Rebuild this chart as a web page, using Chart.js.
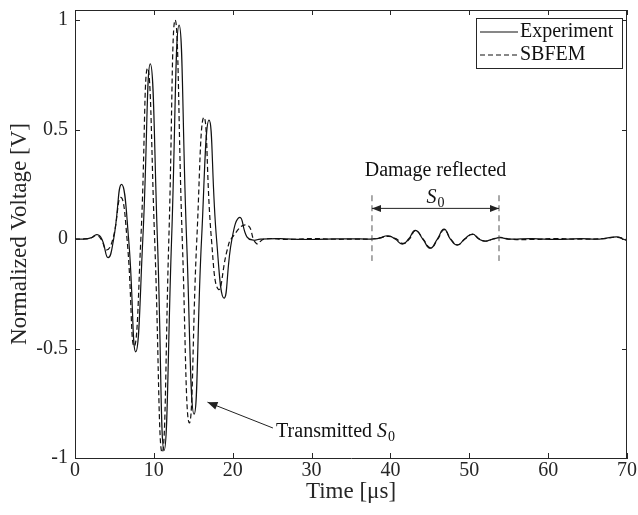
<!DOCTYPE html>
<html>
<head>
<meta charset="utf-8">
<script src="https://cdn.jsdelivr.net/npm/chart.js@4/dist/chart.umd.min.js"></script>
<style>
html,body{margin:0;padding:0;background:#fff;}
#wrap{width:638px;height:515px;position:relative;}
</style>
</head>
<body>
<div id="wrap"><canvas id="c" width="638" height="515"></canvas></div>
<script>
// ---- Data ----
const expTime = [0, 1.0, 2.0, 2.8, 3.4, 4.2, 4.9, 5.9, 6.8, 7.7, 8.6, 9.55, 10.45, 11.3, 12.25, 13.2, 14.15, 15.1, 16.05, 17.0, 17.95, 18.9, 19.9, 20.9, 21.8, 22.6, 23.5, 26, 29, 32, 35, 37.5, 38.5, 39.7, 40.6, 41.5, 42.3, 43.15, 44.1, 45.05, 45.95, 46.8, 47.6, 48.5, 49.4, 50.4, 51.2, 52.0, 53.0, 53.9, 55, 58, 61, 64, 66.5, 68.7, 69.5, 70];
const expVolt = [0, 0.0, 0.005, 0.02, 0.0, -0.085, 0.0, 0.25, 0.0, -0.515, 0.0, 0.80, 0.0, -0.965, 0.0, 0.977, 0.0, -0.80, 0.0, 0.543, 0.0, -0.27, 0.0, 0.099, 0.01, -0.005, 0.0, 0.002, -0.002, 0.0, 0.001, 0.0, 0.003, 0.015, 0.0, -0.023, 0.0, 0.04, 0.0, -0.042, 0.0, 0.045, 0.0, -0.028, 0.0, 0.023, 0.0, -0.009, 0.0, 0.006, 0.0, 0.002, -0.002, 0.002, 0.0, 0.01, 0.0, -0.008];

const simTime = [0, 1.0, 2.0, 2.7, 3.3, 4.0, 4.8, 5.8, 6.6, 7.5, 8.35, 9.2, 10.1, 11.05, 11.9, 12.7, 13.6, 14.5, 15.45, 16.35, 17.3, 18.2, 19.3, 20.0, 21.8, 23.0, 24.0, 27, 30, 33, 36, 37.5, 38.6, 39.8, 40.7, 41.6, 42.4, 43.2, 44.15, 45.1, 46.0, 46.85, 47.65, 48.55, 49.45, 50.45, 51.3, 52.1, 53.0, 53.9, 55, 58, 61, 64, 67, 68.8, 70];
const simVolt = [0, 0.0, 0.005, 0.015, 0.0, -0.05, 0.0, 0.19, 0.0, -0.49, 0.0, 0.78, 0.0, -0.975, 0.0, 1.0, 0.0, -0.84, 0.0, 0.556, 0.0, -0.23, -0.05, 0.01, 0.064, -0.02, 0.0, -0.002, 0.002, -0.001, 0.0, 0.0, 0.005, 0.012, 0.002, -0.02, 0.0, 0.038, 0.0, -0.04, 0.0, 0.043, 0.0, -0.026, 0.0, 0.021, 0.0, -0.01, 0.0, 0.008, 0.0, -0.002, 0.002, -0.001, 0.002, 0.008, -0.004];

const xTicks = [0, 10, 20, 30, 40, 50, 60, 70];
const yTicks = [-1, -0.5, 0, 0.5, 1];
const seriesNames = ['Experiment', 'SBFEM'];

// annotation anchors in data coordinates
const reflStart = 37.66, reflEnd = 53.77;

const FONT = '"Liberation Serif", "Times New Roman", serif';
const AX = '#262626';

function pts(t, v) { return t.map((x, i) => ({x: x, y: v[i]})); }

function arrowHead(ctx, x1, y1, x2, y2, len, wid) {
  const a = Math.atan2(y2 - y1, x2 - x1);
  ctx.beginPath();
  ctx.moveTo(x2, y2);
  ctx.lineTo(x2 - len * Math.cos(a) + wid * Math.sin(a), y2 - len * Math.sin(a) - wid * Math.cos(a));
  ctx.lineTo(x2 - len * Math.cos(a) - wid * Math.sin(a), y2 - len * Math.sin(a) + wid * Math.cos(a));
  ctx.closePath();
  ctx.fill();
}

function drawS0(ctx, x, y, align) {
  ctx.save();
  ctx.textBaseline = 'alphabetic';
  ctx.font = 'italic 20px ' + FONT;
  const wS = ctx.measureText('S').width;
  ctx.font = '14px ' + FONT;
  const w0 = ctx.measureText('0').width;
  let sx = x;
  if (align === 'center') sx = x - (wS + w0 + 1) / 2;
  ctx.textAlign = 'left';
  ctx.font = 'italic 20px ' + FONT;
  ctx.fillText('S', sx, y);
  ctx.font = '14px ' + FONT;
  ctx.fillText('0', sx + wS + 1, y + 4);
  ctx.restore();
  return wS + w0 + 1;
}

const decor = {
  id: 'decor',
  afterDatasetsDraw(chart) {
    const ctx = chart.ctx;
    const xs = chart.scales.x, ys = chart.scales.y;
    const ca = chart.chartArea;
    ctx.save();
    // box: top and right lines
    ctx.strokeStyle = AX;
    ctx.lineWidth = 1;
    ctx.beginPath();
    ctx.moveTo(ca.left, ca.top + 0.5); ctx.lineTo(ca.right, ca.top + 0.5);
    ctx.moveTo(ca.right - 0.5, ca.top); ctx.lineTo(ca.right - 0.5, ca.bottom);
    ctx.stroke();
    // inward ticks
    const tl = 5;
    ctx.beginPath();
    xTicks.forEach(v => {
      const px = Math.round(xs.getPixelForValue(v)) + 0.5;
      ctx.moveTo(px, ca.bottom); ctx.lineTo(px, ca.bottom - tl);
      ctx.moveTo(px, ca.top); ctx.lineTo(px, ca.top + tl);
    });
    yTicks.forEach(v => {
      const py = Math.round(ys.getPixelForValue(v)) + 0.5;
      ctx.moveTo(ca.left, py); ctx.lineTo(ca.left + tl, py);
      ctx.moveTo(ca.right, py); ctx.lineTo(ca.right - tl, py);
    });
    ctx.stroke();

    // Damage reflected annotation
    const xa = xs.getPixelForValue(reflStart), xb = xs.getPixelForValue(reflEnd);
    ctx.strokeStyle = '#555';
    ctx.setLineDash([6, 4]);
    ctx.beginPath();
    ctx.moveTo(xa, ys.getPixelForValue(0.20)); ctx.lineTo(xa, ys.getPixelForValue(-0.10));
    ctx.moveTo(xb, ys.getPixelForValue(0.20)); ctx.lineTo(xb, ys.getPixelForValue(-0.10));
    ctx.stroke();
    ctx.setLineDash([]);
    const ya = ys.getPixelForValue(0.14);
    ctx.strokeStyle = '#222'; ctx.fillStyle = '#222';
    ctx.beginPath(); ctx.moveTo(xa, ya); ctx.lineTo(xb, ya); ctx.stroke();
    arrowHead(ctx, xb, ya, xa, ya, 9, 3.5);
    arrowHead(ctx, xa, ya, xb, ya, 9, 3.5);
    ctx.fillStyle = '#111';
    ctx.font = '20px ' + FONT;
    ctx.textAlign = 'center';
    ctx.textBaseline = 'middle';
    const xm = (xa + xb) / 2;
    ctx.fillText('Damage reflected', xm, ys.getPixelForValue(0.31));
    drawS0(ctx, xm, ys.getPixelForValue(0.165), 'center');

    // Transmitted annotation
    const tx1 = xs.getPixelForValue(25.1), ty1 = ys.getPixelForValue(-0.863);
    const tx2 = xs.getPixelForValue(16.8), ty2 = ys.getPixelForValue(-0.745);
    ctx.strokeStyle = '#222'; ctx.fillStyle = '#222';
    ctx.beginPath(); ctx.moveTo(tx1, ty1); ctx.lineTo(tx2, ty2); ctx.stroke();
    arrowHead(ctx, tx1, ty1, tx2, ty2, 10, 4);
    ctx.fillStyle = '#111';
    ctx.font = '20px ' + FONT;
    ctx.textAlign = 'left';
    ctx.textBaseline = 'alphabetic';
    const tx = xs.getPixelForValue(25.5), ty = ys.getPixelForValue(-0.877) + 6;
    ctx.fillText('Transmitted ', tx, ty);
    const wT = ctx.measureText('Transmitted ').width;
    drawS0(ctx, tx + wT, ty, 'left');

    // Legend
    const lx = ca.right - 151, ly = ca.top + 8, lw = 146, lh = 50;
    ctx.fillStyle = '#fff';
    ctx.fillRect(lx, ly, lw, lh);
    ctx.strokeStyle = AX; ctx.lineWidth = 1;
    ctx.strokeRect(lx + 0.5, ly + 0.5, lw, lh);
    ctx.strokeStyle = '#111'; ctx.lineWidth = 1.1;
    ctx.beginPath(); ctx.moveTo(lx + 4, ly + 14); ctx.lineTo(lx + 42, ly + 14); ctx.stroke();
    ctx.setLineDash([5, 3]);
    ctx.beginPath(); ctx.moveTo(lx + 4, ly + 37); ctx.lineTo(lx + 42, ly + 37); ctx.stroke();
    ctx.setLineDash([]);
    ctx.fillStyle = '#111';
    ctx.font = '20px ' + FONT;
    ctx.textAlign = 'left';
    ctx.textBaseline = 'middle';
    ctx.fillText(seriesNames[0], lx + 44, ly + 14);
    ctx.fillText(seriesNames[1], lx + 44, ly + 37);
    ctx.restore();
  }
};

new Chart(document.getElementById('c'), {
  type: 'line',
  data: {
    datasets: [
      {
        label: seriesNames[0],
        data: pts(expTime, expVolt),
        borderColor: '#111',
        borderWidth: 1.2,
        pointRadius: 0,
        fill: false,
        tension: 0.5
      },
      {
        label: seriesNames[1],
        data: pts(simTime, simVolt),
        borderColor: '#111',
        borderWidth: 1.2,
        borderDash: [5, 3],
        pointRadius: 0,
        fill: false,
        tension: 0.5
      }
    ]
  },
  options: {
    responsive: false,
    animation: false,
    events: [],
    layout: {padding: {top: 10, right: 11, left: 0, bottom: 0}},
    plugins: {legend: {display: false}, tooltip: {enabled: false}},
    scales: {
      x: {
        type: 'linear',
        min: 0, max: 70,
        afterBuildTicks: s => { s.ticks = xTicks.map(v => ({value: v})); },
        afterFit: s => { s.height = 57; s.paddingLeft = 0; s.paddingRight = 0; },
        grid: {display: false, drawTicks: false},
        border: {display: true, color: AX, width: 1},
        ticks: {color: AX, font: {family: FONT, size: 20}, padding: 1, maxRotation: 0,
                callback: v => String(v)},
        title: {display: true, text: 'Time [μs]', color: AX,
                font: {family: FONT, size: 23}, padding: {top: 0, bottom: 9}}
      },
      y: {
        type: 'linear',
        min: -1, max: 1.046,
        afterBuildTicks: s => { s.ticks = yTicks.map(v => ({value: v})); },
        afterFit: s => { s.width = 75; s.paddingTop = 0; s.paddingBottom = 0; },
        grid: {display: false, drawTicks: false},
        border: {display: true, color: AX, width: 1},
        ticks: {color: AX, font: {family: FONT, size: 20}, padding: 7,
                callback: v => String(v)},
        title: {display: true, text: 'Normalized Voltage [V]', color: AX,
                font: {family: FONT, size: 23}, padding: {top: 6, bottom: 0}}
      }
    }
  },
  plugins: [decor]
});
</script>
</body>
</html>
